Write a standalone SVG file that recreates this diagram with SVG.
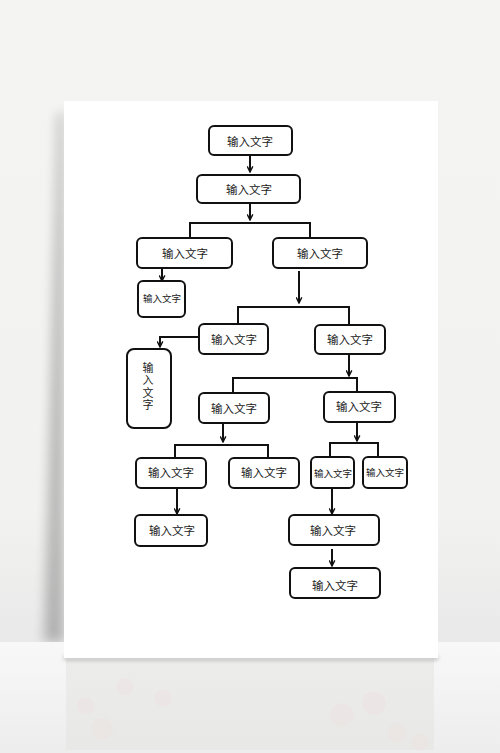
<svg xmlns="http://www.w3.org/2000/svg" width="500" height="753" viewBox="0 0 500 753">
<defs>
<linearGradient id="wall" x1="0" y1="0" x2="0" y2="1">
<stop offset="0" stop-color="#f4f4f3"/>
<stop offset="0.8" stop-color="#f2f2f1"/>
<stop offset="1" stop-color="#e9e9e9"/>
</linearGradient>
<linearGradient id="floor" x1="0" y1="0" x2="0" y2="1">
<stop offset="0" stop-color="#f8f8f8"/>
<stop offset="1" stop-color="#ededed"/>
</linearGradient>
<linearGradient id="refl" x1="0" y1="0" x2="0" y2="1">
<stop offset="0" stop-color="#ececea"/>
<stop offset="1" stop-color="#e8e8e6"/>
</linearGradient>
<filter id="blur" x="-50%" y="-20%" width="200%" height="140%"><feGaussianBlur stdDeviation="6"/></filter>
<filter id="blur2" x="-10%" y="-200%" width="120%" height="500%"><feGaussianBlur stdDeviation="2"/></filter>
<clipPath id="wallclip"><rect x="0" y="0" width="500" height="642"/></clipPath>
<marker id="ah" viewBox="0 0 10 10" refX="9" refY="5" markerWidth="7" markerHeight="7" orient="auto" markerUnits="userSpaceOnUse">
<path d="M1,1 L9,5 L1,9" fill="none" stroke="#111" stroke-width="2"/>
</marker>
<style>
.box{fill:#fff;stroke:#111;stroke-width:2}
.t{font-family:"Noto Sans CJK SC","Noto Sans",sans-serif;font-size:11.5px;fill:#222;text-anchor:middle;dominant-baseline:central}
.s{font-size:9.5px}
.v{font-size:11px;writing-mode:vertical-rl;letter-spacing:1.5px}
.c{fill:none;stroke:#111;stroke-width:2}
</style>
</defs>
<!-- background -->
<rect x="0" y="0" width="500" height="642" fill="url(#wall)"/>
<rect x="0" y="642" width="500" height="111" fill="url(#floor)"/>
<rect x="66" y="660" width="368" height="90" fill="url(#refl)"/>
<g fill="#f0dede" opacity="0.25">
<circle cx="86" cy="706" r="9"/><circle cx="125" cy="687" r="9"/><circle cx="102" cy="729" r="11"/><circle cx="163" cy="698" r="9"/>
<circle cx="342" cy="715" r="12"/><circle cx="374" cy="703" r="12"/><circle cx="397" cy="733" r="10"/><circle cx="420" cy="742" r="9"/>
</g>
<g clip-path="url(#wallclip)">
<polygon points="64,113 58,113 44,642 64,642" fill="#000" opacity="0.24" filter="url(#blur)"/>
</g>
<rect x="64" y="656" width="374" height="4" fill="#000" opacity="0.25" filter="url(#blur2)"/>
<!-- paper -->
<rect x="64" y="101" width="374" height="557" fill="#fff"/>

<g id="connectors">
<path class="c" d="M250,155 V172" marker-end="url(#ah)"/>
<path class="c" d="M250,203 V220" marker-end="url(#ah)"/>
<path class="c" d="M190,238 V223 H310 V238"/>
<path class="c" d="M162,268 V281" marker-end="url(#ah)"/>
<path class="c" d="M299,271 V303" marker-end="url(#ah)"/>
<path class="c" d="M238,324 V307 H349 V325"/>
<path class="c" d="M199,337 H160 V347" marker-end="url(#ah)"/>
<path class="c" d="M349,354 V376" marker-end="url(#ah)"/>
<path class="c" d="M233,393 V378 H357 V392"/>
<path class="c" d="M223,423 V442" marker-end="url(#ah)"/>
<path class="c" d="M175,458 V445 H268 V458"/>
<path class="c" d="M177,488 V514" marker-end="url(#ah)"/>
<path class="c" d="M357,422 V441" marker-end="url(#ah)"/>
<path class="c" d="M330,457 V443 H378 V457"/>
<path class="c" d="M332,488 V514" marker-end="url(#ah)"/>
<path class="c" d="M332,549 V566" marker-end="url(#ah)"/>
</g>

<g id="nA"><rect class="box" x="209" y="126" width="83" height="29" rx="5"/><text class="t" x="250" y="141">输入文字</text></g>
<g id="nB"><rect class="box" x="197" y="175" width="103" height="28" rx="5"/><text class="t" x="249" y="189">输入文字</text></g>
<g id="nC"><rect class="box" x="137" y="238" width="95" height="30" rx="5"/><text class="t" x="185" y="253">输入文字</text></g>
<g id="nD"><rect class="box" x="273" y="238" width="94" height="30" rx="5"/><text class="t" x="320" y="253">输入文字</text></g>
<g id="nE"><rect class="box" x="138" y="281" width="47" height="36" rx="5"/><text class="t s" x="162" y="298">输入文字</text></g>
<g id="nF"><rect class="box" x="199" y="324" width="69" height="30" rx="5"/><text class="t" x="234" y="339">输入文字</text></g>
<g id="nG"><rect class="box" x="315" y="325" width="70" height="29" rx="5"/><text class="t" x="350" y="339">输入文字</text></g>
<g id="nH"><rect class="box" x="127" y="349" width="44" height="79" rx="7"/>
<text class="t v" x="148" y="387">输入文字</text></g>
<g id="nI"><rect class="box" x="199" y="393" width="70" height="30" rx="5"/><text class="t" x="234" y="408">输入文字</text></g>
<g id="nJ"><rect class="box" x="324" y="392" width="71" height="30" rx="5"/><text class="t" x="359" y="406">输入文字</text></g>
<g id="nK"><rect class="box" x="136" y="458" width="70" height="30" rx="5"/><text class="t" x="171" y="472">输入文字</text></g>
<g id="nL"><rect class="box" x="229" y="458" width="70" height="30" rx="5"/><text class="t" x="264" y="472">输入文字</text></g>
<g id="nM"><rect class="box" x="135" y="515" width="72" height="31" rx="5"/><text class="t" x="172" y="530">输入文字</text></g>
<g id="nN"><rect class="box" x="311" y="457" width="43" height="31" rx="5"/><text class="t s" x="333" y="473">输入文字</text></g>
<g id="nO"><rect class="box" x="363" y="457" width="44" height="31" rx="5"/><text class="t s" x="385" y="472">输入文字</text></g>
<g id="nP"><rect class="box" x="289" y="515" width="90" height="30" rx="5"/><text class="t" x="333" y="530">输入文字</text></g>
<g id="nQ"><rect class="box" x="290" y="568" width="90" height="30" rx="5"/><text class="t" x="335" y="585">输入文字</text></g>
</svg>
